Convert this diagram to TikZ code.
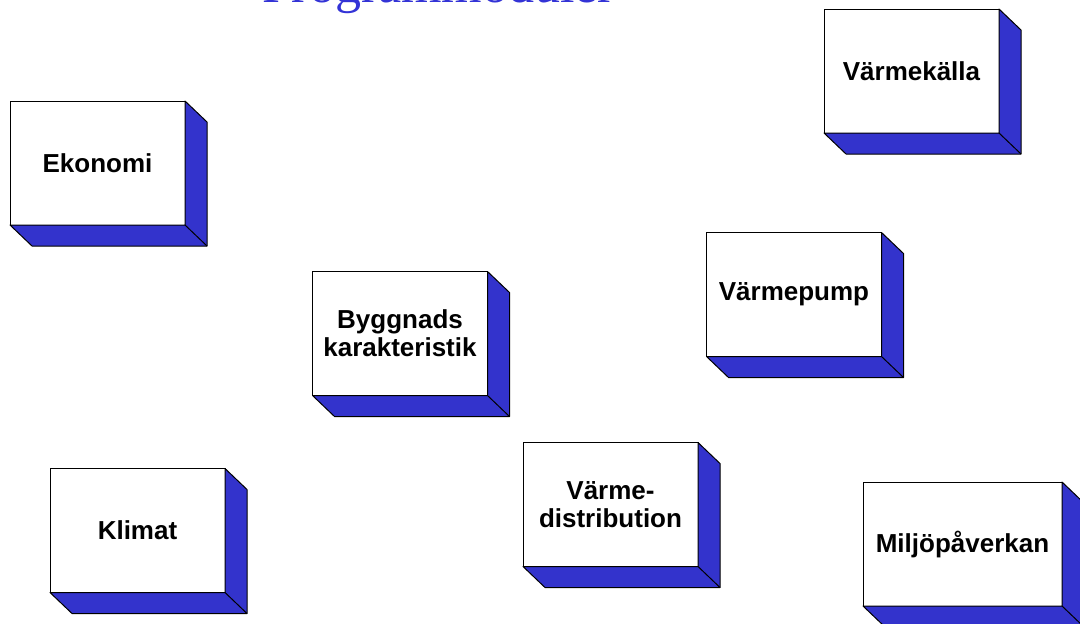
\documentclass[tikz,border=0pt]{standalone}
\usepackage{fontspec}
\setmainfont{Liberation Sans}
\newfontfamily\titlefont{Liberation Serif}
\definecolor{sideblue}{RGB}{51,51,204}
\definecolor{titleblue}{RGB}{51,51,214}

% draws the blue bottom and right faces of a module block
\newcommand\extrude[1]{%
  \filldraw[side] (#1.south west) -- ++(22,21)
    -- ([shift={(22,21)}]#1.south east)
    -- ([shift={(22,21)}]#1.north east)
    -- (#1.north east) -- (#1.south east) -- cycle;
  \draw[side, fill=none] (#1.south east) -- ++(22,21);}

\begin{document}
\begin{tikzpicture}[x=1pt, y=-1pt,
  module/.style={draw=black, line width=1pt, fill=white,
    minimum width=175pt, minimum height=124pt, inner sep=0pt, outer sep=0pt,
    align=center, font=\fontsize{26}{28}\selectfont\bfseries},
  side/.style={fill=sideblue, draw=black, line width=1pt, line join=round}]
\useasboundingbox (0,0) rectangle (1080,624);
\clip (0,0) rectangle (1080,624);

\node[anchor=base, inner sep=0pt, text=titleblue,
  font=\titlefont\fontsize{52}{60}\selectfont] (title) at (439,2.5) {Programmoduler};

\node[module] (ekonomi) at (97.5,163) {Ekonomi};
\node[module] (kalla) at (911.5,71) {Värmekälla};
\node[module] (bygg) at (400,333.5) {Byggnads\\karakteristik};
\node[module] (pump) at (794,294.5) {Värmepump};
\node[module] (klimat) at (137.5,530.5) {Klimat};
\node[module] (distr) at (610.5,504.5) {Värme-\\distribution};
\node[module, minimum width=199pt] (miljo) at (962.5,544) {Miljöpåverkan};

\foreach \n in {ekonomi,kalla,bygg,pump,klimat,distr,miljo} {\extrude{\n}}
\end{tikzpicture}
\end{document}
